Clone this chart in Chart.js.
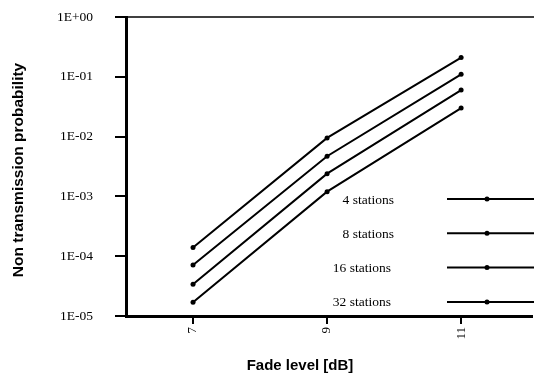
<!DOCTYPE html>
<html>
<head>
<meta charset="utf-8">
<script src="https://cdn.jsdelivr.net/npm/chart.js@4/dist/chart.umd.min.js"></script>
<style>
  html, body { margin: 0; padding: 0; background: #fff; overflow: hidden; }
  #wrap { width: 534px; height: 376px; }
</style>
</head>
<body>
<div id="wrap"><canvas id="chart" width="534" height="376"></canvas></div>
<script>
// values
const fadeLevels = [7, 9, 11];
const stations4 = [1.4e-4, 9.5e-3, 0.21];
const stations8 = [7.1e-5, 4.7e-3, 0.11];
const stations16 = [3.4e-5, 2.4e-3, 0.06];
const stations32 = [1.7e-5, 1.2e-3, 0.03];
const seriesLabels = ['4 stations', '8 stations', '16 stations', '32 stations'];
const xTickValues = [7, 9, 11];
const yTickValues = [1e-5, 1e-4, 1e-3, 1e-2, 1e-1, 1];

const serif = '"Liberation Serif", "Times New Roman", serif';
const sans = '"Liberation Sans", Arial, sans-serif';

function toPoints(vals) {
  return fadeLevels.map((x, i) => ({ x: x, y: vals[i] }));
}

const allSeries = [stations4, stations8, stations16, stations32];
const datasets = allSeries.map((vals, i) => ({
  label: seriesLabels[i],
  data: toPoints(vals),
  showLine: true,
  borderColor: '#000',
  backgroundColor: '#000',
  borderWidth: 2,
  pointRadius: 2.5,
  pointHoverRadius: 2.5,
  pointBorderWidth: 0
}));

function expLabel(v) {
  const e = Math.round(Math.log10(v));
  const s = e < 0 ? '-' : '+';
  return '1E' + s + String(Math.abs(e)).padStart(2, '0');
}

// top frame line, in-plot legend and axis titles
const decorations = {
  id: 'decorations',
  afterDraw(chart) {
    const ctx = chart.ctx;
    const area = chart.chartArea;
    ctx.save();
    ctx.strokeStyle = '#000';
    ctx.lineWidth = 1.5;
    ctx.beginPath();
    ctx.moveTo(area.left, area.top);
    ctx.lineTo(chart.width, area.top);
    ctx.stroke();

    // legend
    chart.data.datasets.forEach((ds, i) => {
      const y = 199 + i * 34.3;
      ctx.fillStyle = '#000';
      ctx.font = '13.5px ' + serif;
      ctx.textAlign = 'right';
      ctx.textBaseline = 'middle';
      ctx.fillText(ds.label, i < 2 ? 394 : 391, y + 1);
      ctx.lineWidth = 2;
      ctx.beginPath();
      ctx.moveTo(447, y);
      ctx.lineTo(chart.width, y);
      ctx.stroke();
      ctx.beginPath();
      ctx.arc(487, y, 2.5, 0, Math.PI * 2);
      ctx.fill();
    });

    // axis titles
    ctx.font = 'bold 15px ' + sans;
    ctx.textAlign = 'center';
    ctx.textBaseline = 'middle';
    ctx.fillText('Fade level [dB]', 300, 366);
    ctx.font = 'bold 15.5px ' + sans;
    ctx.translate(19, 170);
    ctx.rotate(-Math.PI / 2);
    ctx.fillText('Non transmission probability', 0, 0);
    ctx.restore();
  }
};

new Chart(document.getElementById('chart'), {
  type: 'scatter',
  data: { datasets: datasets },
  options: {
    responsive: false,
    animation: false,
    layout: { padding: { top: 17, right: 0, left: 0, bottom: 0 } },
    plugins: {
      legend: { display: false },
      tooltip: { enabled: false }
    },
    scales: {
      x: {
        type: 'linear',
        min: 6,
        max: 12.05,
        afterBuildTicks: (scale) => { scale.ticks = xTickValues.map(v => ({ value: v })); },
        afterFit: (scale) => {
          scale.height = 60;
          scale.paddingLeft = 0;
          scale.paddingRight = 0;
          scale.paddingTop = 0;
          scale.paddingBottom = 0;
        },
        grid: {
          drawOnChartArea: false,
          drawTicks: true,
          tickLength: 8,
          color: '#000',
          lineWidth: 2
        },
        border: { display: true, color: '#000', width: 3 },
        ticks: {
          color: '#000',
          font: { family: serif, size: 13 },
          minRotation: 90,
          maxRotation: 90,
          padding: 3,
          callback: (v) => String(v)
        }
      },
      y: {
        type: 'logarithmic',
        min: 1e-5,
        max: 1,
        afterBuildTicks: (scale) => { scale.ticks = yTickValues.map(v => ({ value: v })); },
        afterFit: (scale) => {
          scale.width = 126;
          scale.paddingLeft = 0;
          scale.paddingRight = 0;
          scale.paddingTop = 0;
          scale.paddingBottom = 0;
        },
        grid: {
          drawOnChartArea: false,
          drawTicks: true,
          tickLength: 11,
          color: '#000',
          lineWidth: 2
        },
        border: { display: true, color: '#000', width: 3 },
        ticks: {
          color: '#000',
          font: { family: serif, size: 13.5 },
          padding: 22,
          callback: (v) => expLabel(v)
        }
      }
    }
  },
  plugins: [decorations]
});
</script>
</body>
</html>
